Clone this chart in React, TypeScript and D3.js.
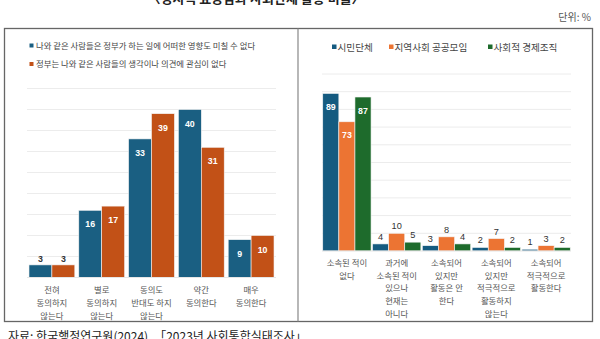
import React from "react";
import * as d3 from "d3";

const leftCategories: string[][] = [
  ["전혀", "동의하지", "않는다"],
  ["별로", "동의하지", "않는다"],
  ["동의도", "반대도 하지", "않는다"],
  ["약간", "동의한다"],
  ["매우", "동의한다"],
];
const leftSeriesNames = [
  "나와 같은 사람들은 정부가 하는 일에 어떠한 영향도 미칠 수 없다",
  "정부는 나와 같은 사람들의 생각이나 의견에 관심이 없다",
];
const leftValuesA = [3, 16, 33, 40, 9];
const leftValuesB = [3, 17, 39, 31, 10];
const leftTicks = [5, 10, 15, 20, 25, 30, 35, 40, 45];

const rightCategories: string[][] = [
  ["소속된 적이", "없다"],
  ["과거에", "소속된 적이", "있으나", "현재는", "아니다"],
  ["소속되어", "있지만", "활동은 안", "한다"],
  ["소속되어", "있지만", "적극적으로", "활동하지", "않는다"],
  ["소속되어", "적극적으로", "활동한다"],
];
const rightSeriesNames = ["시민단체", "지역사회 공공모임", "사회적 경제조직"];
const rightValuesCivic = [89, 4, 3, 2, 1];
const rightValuesLocal = [73, 10, 8, 7, 3];
const rightValuesSocial = [87, 5, 4, 2, 2];
const rightTicks = [10, 20, 30, 40, 50, 60, 70, 80, 90, 100];

const titleText = "〈정치적 효능감과 사회단체 활동 비율〉";
const unitText = "단위: %";
const sourceText = "자료: 한국행정연구원(2024), 「2023년 사회통합실태조사」";

const KR = "'Noto Sans CJK KR', 'Noto Sans', sans-serif";
const NUM = "'Liberation Sans', Arial, sans-serif";

export default function App() {
  const lx = d3.scaleBand<number>().domain(d3.range(5)).range([27, 276]).paddingInner(0.08).paddingOuter(0.04);
  const lxInner = d3.scaleBand<number>().domain([0, 1]).range([0, lx.bandwidth()]);
  const ly = d3.scaleLinear().domain([0, 45]).range([277.5, 88.5]);
  const leftColors = ["#1a5f82", "#c25117"];
  const leftSeries = [leftValuesA, leftValuesB];

  const rx = d3.scaleBand<number>().domain(d3.range(5)).range([322, 571]).paddingInner(0.03).paddingOuter(0.015);
  const rxInner = d3.scaleBand<number>().domain([0, 1, 2]).range([0, rx.bandwidth()]);
  const ry = d3.scaleLinear().domain([0, 100]).range([251, 74]);
  const rightColors = ["#155b80", "#ec7433", "#1e6b2c"];
  const rightSeries = [rightValuesCivic, rightValuesLocal, rightValuesSocial];

  return (
    <svg
      width={600}
      height={339}
      style={{ position: "absolute", left: 0, top: 0, background: "#fff" }}
    >
      <rect x={0} y={0} width={600} height={339} fill="#fff" />
      <text x={256} y={3} textAnchor="middle" fontFamily={KR} fontWeight={700} fontSize={13} fill="#222">
        {titleText}
      </text>
      <text x={591} y={21} textAnchor="end" fontFamily={KR} fontSize={10} fill="#555">
        {unitText}
      </text>

      <rect x={4.5} y={28.5} width={588} height={293} fill="none" stroke="#666" strokeWidth={1.3} />
      <line x1={298} x2={298} y1={28.5} y2={321.5} stroke="#888" strokeWidth={1.2} />

      {leftSeriesNames.map((n, i) => (
        <g key={n}>
          <rect x={29.5} y={43.5 + i * 18.5} width={4} height={4} fill={leftColors[i]} />
          <text x={36} y={48.5 + i * 18.5} fontFamily={KR} fontSize={8.4} fill="#444">
            {n}
          </text>
        </g>
      ))}

      {leftTicks.map((t) => (
        <line key={t} x1={27} x2={276} y1={ly(t)} y2={ly(t)} stroke="#ececec" strokeWidth={1} />
      ))}

      {leftSeries.map((vals, si) =>
        vals.map((v, ci) => {
          const x = (lx(ci) as number) + (lxInner(si) as number);
          const w = lxInner.bandwidth();
          const y = ly(v);
          const inside = v >= 8;
          return (
            <g key={`l${si}-${ci}`}>
              <rect x={x} y={y} width={w} height={ly(0) - y} fill={leftColors[si]} stroke="#f4f4f4" strokeWidth={0.6} />
              <text
                x={x + w / 2}
                y={inside ? y + 17 : y - 3}
                textAnchor="middle"
                fontFamily={NUM}
                fontWeight={700}
                fontSize={8.8}
                fill={inside ? "#fff" : "#333"}
              >
                {v}
              </text>
            </g>
          );
        })
      )}
      <line x1={27} x2={276} y1={ly(0)} y2={ly(0)} stroke="#e6e6e6" strokeWidth={1} />

      {leftCategories.map((lines, ci) => (
        <text
          key={`lc${ci}`}
          x={(lx(ci) as number) + lx.bandwidth() / 2}
          y={293}
          textAnchor="middle"
          fontFamily={KR}
          fontSize={8.4}
          fill="#555"
        >
          {lines.map((l, li) => (
            <tspan key={li} x={(lx(ci) as number) + lx.bandwidth() / 2} dy={li === 0 ? 0 : 13}>
              {l}
            </tspan>
          ))}
        </text>
      ))}

      {rightSeriesNames.map((n, i) => {
        const xs = [332, 389, 488];
        return (
          <g key={n}>
            <rect x={xs[i]} y={44.5} width={4.5} height={4.5} fill={rightColors[i]} />
            <text x={xs[i] + 5.5} y={50.5} fontFamily={KR} fontSize={9.6} fill="#444">
              {n}
            </text>
          </g>
        );
      })}

      {rightTicks.map((t) => (
        <line key={t} x1={322} x2={571} y1={ry(t)} y2={ry(t)} stroke="#ececec" strokeWidth={1} />
      ))}

      {rightSeries.map((vals, si) =>
        vals.map((v, ci) => {
          const x = (rx(ci) as number) + (rxInner(si) as number);
          const w = rxInner.bandwidth();
          const y = ry(v);
          const inside = v >= 30;
          return (
            <g key={`r${si}-${ci}`}>
              <rect x={x} y={y} width={w} height={ry(0) - y} fill={rightColors[si]} stroke="#f4f4f4" strokeWidth={0.6} />
              <text
                x={x + w / 2}
                y={inside ? y + 16.5 : y - 4}
                textAnchor="middle"
                fontFamily={NUM}
                fontWeight={inside ? 700 : 400}
                fontSize={inside ? 8.8 : 9.2}
                fill={inside ? "#fff" : "#333"}
              >
                {v}
              </text>
            </g>
          );
        })
      )}
      <line x1={322} x2={571} y1={ry(0)} y2={ry(0)} stroke="#e6e6e6" strokeWidth={1} />

      {rightCategories.map((lines, ci) => (
        <text
          key={`rc${ci}`}
          x={(rx(ci) as number) + rx.bandwidth() / 2}
          y={266}
          textAnchor="middle"
          fontFamily={KR}
          fontSize={8.4}
          fill="#555"
        >
          {lines.map((l, li) => (
            <tspan key={li} x={(rx(ci) as number) + rx.bandwidth() / 2} dy={li === 0 ? 0 : 12.7}>
              {l}
            </tspan>
          ))}
        </text>
      ))}

      <text x={8} y={341} fontFamily={KR} fontSize={12} fill="#222">
        {sourceText}
      </text>
    </svg>
  );
}
